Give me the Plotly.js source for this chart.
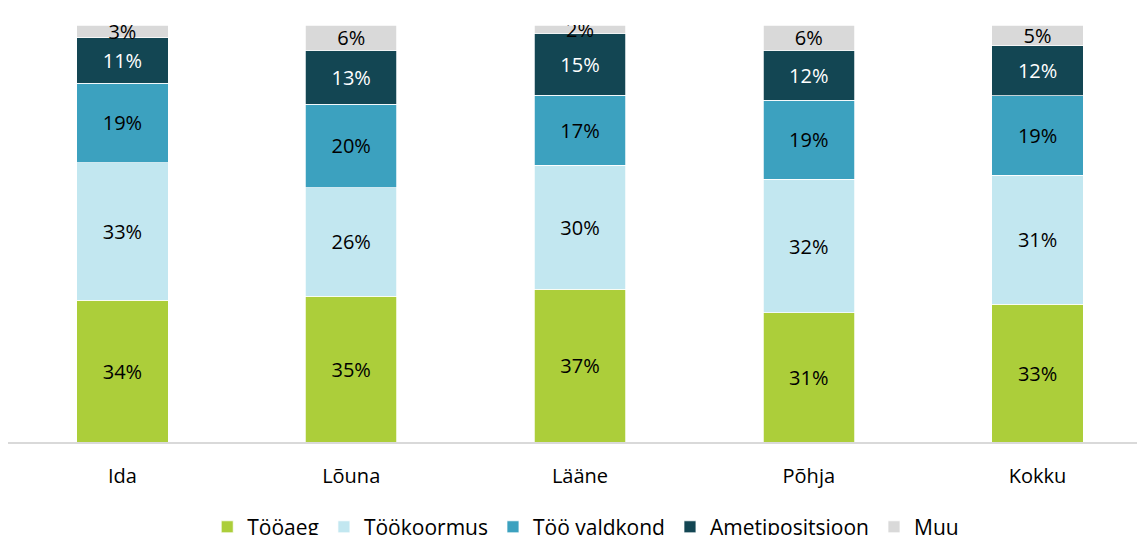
<!DOCTYPE html>
<html>
<head>
<meta charset="utf-8">
<script src="https://cdn.plot.ly/plotly-3.0.1.min.js"></script>
<style>
  html, body { margin: 0; padding: 0; overflow: hidden; background: #fff; }
</style>
</head>
<body>
<div id="plot"></div>
<script>
// regions
const categories = ['Ida', 'Lõuna', 'Lääne', 'Põhja', 'Kokku'];

// shares per reason, %
const tooaeg = [34, 35, 37, 31, 33];
const tookoormus = [33, 26, 30, 32, 31];
const tooValdkond = [19, 20, 17, 19, 19];
const ametipositsioon = [11, 13, 15, 12, 12];
const muu = [3, 6, 2, 6, 5];

const seriesNames = ['Tööaeg', 'Töökoormus', 'Töö valdkond', 'Ametipositsioon', 'Muu'];
const seriesColors = ['#acce3a', '#c2e7f0', '#3ca1bf', '#134653', '#d9d9d9'];
const labelColors = ['#000000', '#000000', '#000000', '#ffffff', '#000000'];

let allSeries = [tooaeg, tookoormus, tooValdkond, ametipositsioon, muu];

let traces = allSeries.map(function(vals, i) {
    return {
        x: categories,
        y: vals,
        name: seriesNames[i],
        type: 'bar',
        marker: {color: seriesColors[i], line: {color: '#ffffff', width: 0.75}},
        text: vals.map(v => v + '%'),
        textposition: 'inside',
        insidetextanchor: 'middle',
        textfont: {family: 'Open Sans', size: 20, color: labelColors[i]},
        hoverinfo: 'name+text'
    };
});

let layout = {
    barmode: 'stack',
    barnorm: 'percent',
    bargap: 0.6,
    width: 1153,
    height: 535,
    margin: {l: 8, r: 1, t: 25, b: 93, autoexpand: false},
    paper_bgcolor: '#ffffff',
    plot_bgcolor: '#ffffff',
    uniformtext: {mode: 'show', minsize: 20},
    font: {family: 'Open Sans', size: 20, color: '#000000'},
    xaxis: {
        showline: true,
        linecolor: '#d9d9d9',
        linewidth: 1.5,
        ticks: '',
        ticklabelstandoff: 15,
        tickfont: {family: 'Open Sans', size: 20, color: '#000000'},
        fixedrange: true
    },
    yaxis: {
        range: [0, 100],
        visible: false,
        showgrid: false,
        zeroline: false,
        fixedrange: true
    },
    showlegend: true,
    legend: {
        orientation: 'h',
        x: 0.505,
        xanchor: 'center',
        y: -0.155,
        yanchor: 'top',
        traceorder: 'normal',
        itemwidth: 30,
        font: {family: 'Open Sans', size: 21, color: '#000000'}
    }
};

Plotly.newPlot('plot', traces, layout, {displayModeBar: false});
</script>
</body>
</html>
